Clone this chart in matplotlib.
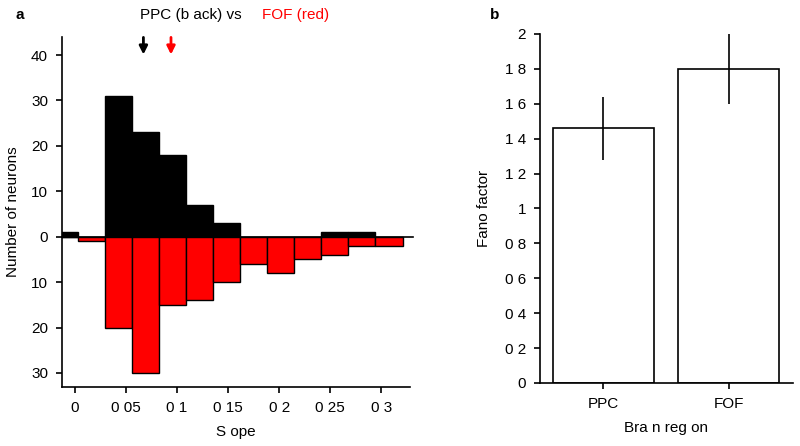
import matplotlib
matplotlib.use('Agg')
import matplotlib.pyplot as plt
import numpy as np

plt.rcParams['font.family'] = ['Liberation Sans', 'DejaVu Sans']
plt.rcParams['font.size'] = 11

# histogram of slopes (counts per bin), PPC up, FOF down
bin_start = -0.0238
bin_width = 0.0265
ppc_counts = [1, 0, 31, 23, 18, 7, 3, 0, 0, 0, 1, 1, 0]
fof_counts = [0, 1, 20, 30, 15, 14, 10, 6, 8, 5, 4, 2, 2]
ppc_median = 0.067
fof_median = 0.094

x_ticks = [0, 0.05, 0.1, 0.15, 0.2, 0.25, 0.3]
x_ticklabels = ['0', '0 05', '0 1', '0 15', '0 2', '0 25', '0 3']
y_ticks = [40, 30, 20, 10, 0, -10, -20, -30]

# fano factor
regions = ['PPC', 'FOF']
fano = [1.46, 1.80]
fano_err = [0.18, 0.20]
fano_ticks = [0, 0.2, 0.4, 0.6, 0.8, 1, 1.2, 1.4, 1.6, 1.8, 2]
fano_ticklabels = ['0', '0 2', '0 4', '0 6', '0 8', '1', '1 2', '1 4', '1 6', '1 8', '2']

fig = plt.figure(figsize=(8, 4.46), dpi=100)

# panel a
ax = fig.add_axes([0.0775, 0.1323, 0.435, 0.785])
edges = bin_start + bin_width * np.arange(len(ppc_counts))
ax.bar(edges, ppc_counts, width=bin_width, align='edge', color='black',
       edgecolor='black', linewidth=1)
ax.bar(edges, -np.array(fof_counts), width=bin_width, align='edge', color='#ff0000',
       edgecolor='black', linewidth=1)
ax.axhline(0, color='black', lw=1.2, xmax=1.01, clip_on=False)
ax.set_xlim(-0.0127, 0.328)
ax.set_ylim(-33.1, 44)
ax.set_xticks(x_ticks)
ax.set_xticklabels(x_ticklabels)
ax.set_yticks(y_ticks)
ax.set_yticklabels([str(abs(v)) for v in y_ticks])
ax.annotate('', xy=(ppc_median, 39.5), xytext=(ppc_median, 44.5),
            arrowprops=dict(arrowstyle='-|>', color='black', lw=2, mutation_scale=12),
            annotation_clip=False)
ax.annotate('', xy=(fof_median, 39.5), xytext=(fof_median, 44.5),
            arrowprops=dict(arrowstyle='-|>', color='#ff0000', lw=2, mutation_scale=12),
            annotation_clip=False)
ax.set_xlabel('S ope', labelpad=7)
ax.set_ylabel('Number of neurons', labelpad=8)
for s in ['top', 'right']:
    ax.spines[s].set_visible(False)
for s in ['left', 'bottom']:
    ax.spines[s].set_linewidth(1.2)
ax.tick_params(direction='out', length=4, width=1.2, pad=6)

fig.text(0.175, 0.966, 'PPC (b ack) vs', ha='left', va='center', color='black')
fig.text(0.328, 0.966, 'FOF (red)', ha='left', va='center', color='#ff0000')
fig.text(0.02, 0.966, 'a', ha='left', va='center', fontweight='bold')

# panel b
bx = fig.add_axes([0.675, 0.1413, 0.316, 0.7825])
bx.bar(range(len(regions)), fano, width=0.805, color='white', edgecolor='black', linewidth=1.2)
bx.errorbar(range(len(regions)), fano, yerr=fano_err, fmt='none', ecolor='black',
            elinewidth=1.2, capsize=0)
bx.set_xlim(-0.506, 1.51)
bx.set_ylim(0, 2)
bx.set_xticks(range(len(regions)))
bx.set_xticklabels(regions)
bx.set_yticks(fano_ticks)
bx.set_yticklabels(fano_ticklabels)
bx.set_xlabel('Bra n reg on', labelpad=7)
bx.set_ylabel('Fano factor', labelpad=10)
for s in ['top', 'right']:
    bx.spines[s].set_visible(False)
for s in ['left', 'bottom']:
    bx.spines[s].set_linewidth(1.2)
bx.tick_params(direction='out', length=4, width=1.2, pad=6)
fig.text(0.613, 0.966, 'b', ha='left', va='center', fontweight='bold')

fig.savefig('out.png', dpi=100)
